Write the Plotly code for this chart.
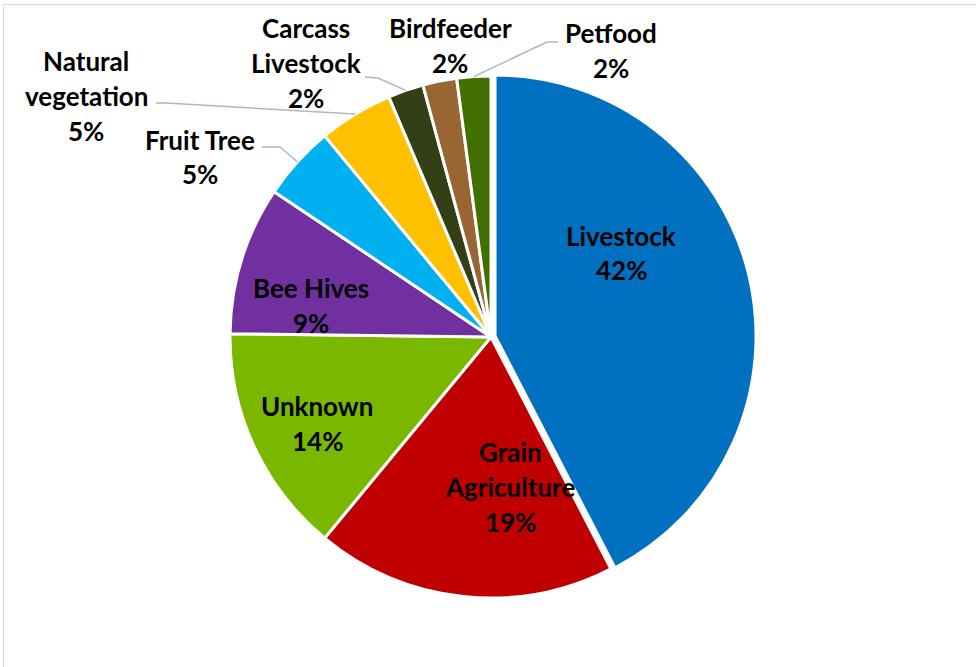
import math
import plotly.graph_objects as go

# ---- data ----
categories = ["Livestock", "Grain Agriculture", "Unknown", "Bee Hives", "Fruit Tree",
              "Natural vegetation", "Carcass Livestock", "Birdfeeder", "Petfood"]
values = [42.4, 18.6, 14.2, 9.2, 4.6, 4.6, 2.2, 2.1, 2.1]

# ---- style ----
colors = ["#0070C0", "#C00000", "#7AB800", "#7030A0", "#00B0F0",
          "#FFC000", "#333F14", "#996633", "#427000"]
label_lines = {
    "Grain Agriculture": ["Grain", "Agriculture"],
    "Natural vegetation": ["Natural", "vegetation"],
    "Carcass Livestock": ["Carcass", "Livestock"],
}
# label block centres (px)
label_pos = {
    "Livestock": (621, 253), "Grain Agriculture": (510, 487), "Unknown": (317, 423),
    "Bee Hives": (311, 305), "Fruit Tree": (200, 157), "Natural vegetation": (86, 96),
    "Carcass Livestock": (306, 63), "Birdfeeder": (450, 46), "Petfood": (611, 50),
}
leaders = {
    "Fruit Tree": [(262, 147), (280, 147)],
    "Natural vegetation": [(156, 103), (166, 103)],
    "Carcass Livestock": [(365, 77), (378, 78)],
    "Petfood": [(558, 42), (547, 42)],
}
pulls = [0.016, 0, 0, 0, 0, 0, 0, 0, 0]
W, H = 976, 667
CX, CY, R = 491, 337, 261
LINE_SP = 35
FONT = dict(family="Lato, 'Open Sans', sans-serif", size=26, color="black", weight="bold")

def px(x):
    return x / W

def py(y):
    return 1 - y / H

half = R * (1 + max(pulls))
fig = go.Figure(go.Pie(
    labels=categories, values=values, sort=False, direction="clockwise", rotation=0,
    marker=dict(colors=colors, line=dict(color="white", width=3)),
    pull=pulls, textinfo="none", hoverinfo="label+percent", showlegend=False,
    domain=dict(x=[px(CX - half), px(CX + half)], y=[py(CY + half), py(CY - half)]),
))

total = sum(values)
annotations = []
shapes = []
cum = 0.0
for cat, v in zip(categories, values):
    mid = (cum + v / 2) / total * 2 * math.pi
    cum += v
    pct = f"{round(v / total * 100)}%"
    lines = label_lines.get(cat, [cat]) + [pct]
    lx, ly = label_pos[cat]
    n = len(lines)
    for i, t in enumerate(lines):
        yy = ly + (i - (n - 1) / 2) * LINE_SP
        annotations.append(dict(x=px(lx), y=py(yy), xref="paper", yref="paper",
                                text=t, showarrow=False, font=FONT,
                                xanchor="center", yanchor="middle"))
    if cat in leaders:
        ax = CX + R * math.sin(mid)
        ay = CY - R * math.cos(mid)
        pts = leaders[cat] + [(ax, ay)]
        for (x0, y0), (x1, y1) in zip(pts[:-1], pts[1:]):
            shapes.append(dict(type="line", xref="paper", yref="paper",
                               x0=px(x0), y0=py(y0), x1=px(x1), y1=py(y1),
                               line=dict(color="#A9B8C6", width=1.5)))

# chart border (light grey)
shapes.append(dict(type="rect", xref="paper", yref="paper",
                   x0=px(3.5), y0=py(680), x1=px(990), y1=py(4.5),
                   line=dict(color="#D9D9D9", width=1), layer="below"))

fig.update_layout(width=W, height=H, margin=dict(l=0, r=0, t=0, b=0),
                  paper_bgcolor="white", plot_bgcolor="white",
                  annotations=annotations, shapes=shapes)
fig.write_html("out.html", config={"displayModeBar": False},
               post_script="document.body.style.margin='0';")
